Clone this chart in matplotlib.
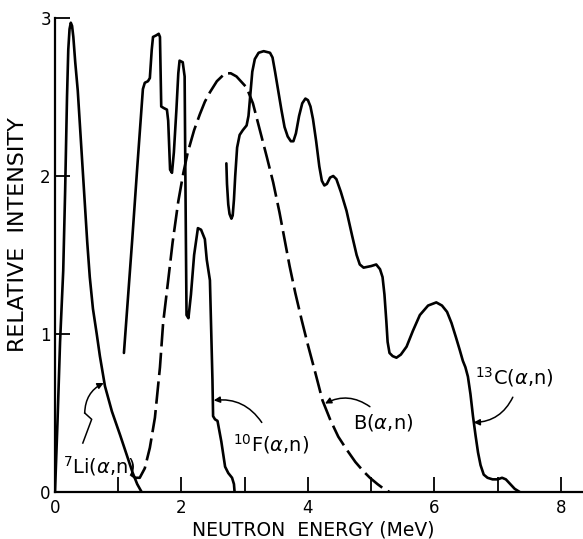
import matplotlib
matplotlib.use("Agg")
import matplotlib.pyplot as plt

plt.rcParams['font.family'] = ['DejaVu Sans']
plt.rcParams['mathtext.fontset'] = 'dejavusans'

# ---- data ----
li_x = [0.00, 0.04, 0.08, 0.13, 0.16, 0.19, 0.21, 0.23, 0.25, 0.27, 0.29, 0.32, 0.36, 0.41,
        0.46, 0.51, 0.55, 0.60, 0.66, 0.71, 0.79, 0.90, 1.03, 1.13, 1.23, 1.30, 1.37]
li_y = [0.00, 0.45, 0.95, 1.40, 1.90, 2.50, 2.80, 2.93, 2.97, 2.95, 2.88, 2.72, 2.54, 2.22,
        1.90, 1.58, 1.36, 1.16, 1.00, 0.86, 0.67, 0.51, 0.36, 0.24, 0.12, 0.05, 0.00]

f_x = [1.09, 1.22, 1.30, 1.39, 1.42, 1.47, 1.50, 1.53, 1.55, 1.60, 1.64, 1.66,
       1.68, 1.72, 1.77, 1.79, 1.82, 1.85, 1.88, 1.92, 1.95, 1.97, 2.02, 2.05, 2.06, 2.07,
       2.08, 2.11, 2.15, 2.20, 2.26, 2.31, 2.37, 2.40, 2.45, 2.49, 2.50, 2.53, 2.57, 2.63,
       2.69, 2.74, 2.80, 2.83, 2.84]
f_y = [0.88, 1.59, 2.05, 2.55, 2.59, 2.60, 2.62, 2.80, 2.88, 2.89, 2.90, 2.88,
       2.44, 2.43, 2.42, 2.35, 2.04, 2.02, 2.15, 2.42, 2.65, 2.73, 2.72, 2.63, 2.10, 1.59,
       1.12, 1.10, 1.25, 1.50, 1.67, 1.66, 1.60, 1.47, 1.34, 0.71, 0.48, 0.46, 0.45, 0.32,
       0.16, 0.12, 0.09, 0.05, 0.00]

c_x = [2.71, 2.72, 2.74, 2.76, 2.79, 2.81, 2.83, 2.85, 2.88, 2.92, 2.97, 3.03, 3.06, 3.09,
       3.12, 3.16, 3.22, 3.30, 3.40, 3.44, 3.48, 3.53, 3.58, 3.63, 3.68, 3.73, 3.77, 3.81,
       3.86, 3.91, 3.96, 4.00, 4.04, 4.08, 4.13, 4.18, 4.22, 4.26, 4.30, 4.35, 4.40, 4.45,
       4.52, 4.61, 4.70, 4.77, 4.82, 4.88, 5.00, 5.08, 5.14, 5.18, 5.21, 5.24, 5.26, 5.29,
       5.34, 5.40, 5.47, 5.56, 5.66, 5.77, 5.90, 6.03, 6.12, 6.20, 6.27, 6.34, 6.40, 6.45,
       6.49, 6.53, 6.57, 6.61, 6.65, 6.69, 6.73, 6.78, 6.84, 6.92, 7.00, 7.07, 7.13, 7.20,
       7.27, 7.35]
c_y = [2.08, 1.95, 1.82, 1.76, 1.73, 1.75, 1.85, 2.00, 2.18, 2.26, 2.29, 2.32, 2.38, 2.52,
       2.66, 2.74, 2.78, 2.79, 2.78, 2.75, 2.66, 2.54, 2.42, 2.31, 2.25, 2.22, 2.22, 2.27,
       2.38, 2.46, 2.49, 2.48, 2.44, 2.36, 2.22, 2.06, 1.97, 1.94, 1.95, 1.99, 2.00, 1.98,
       1.90, 1.78, 1.62, 1.50, 1.44, 1.42, 1.43, 1.44, 1.41, 1.36, 1.25, 1.08, 0.95, 0.88,
       0.86, 0.85, 0.87, 0.92, 1.02, 1.12, 1.18, 1.20, 1.18, 1.14, 1.07, 0.98, 0.90, 0.83,
       0.79, 0.73, 0.62, 0.48, 0.36, 0.25, 0.17, 0.11, 0.09, 0.08, 0.08, 0.09, 0.08, 0.05,
       0.02, 0.00]

b_x = [1.20, 1.27, 1.34, 1.42, 1.50, 1.58, 1.66, 1.71, 1.79, 1.86, 1.95, 2.03, 2.10, 2.20,
       2.29, 2.37, 2.45, 2.56, 2.69, 2.78, 2.87, 3.03, 3.13, 3.24, 3.35, 3.45, 3.55, 3.63,
       3.71, 3.80, 3.90, 4.00, 4.12, 4.23, 4.35, 4.48, 4.61, 4.75, 4.88, 4.98, 5.10, 5.20,
       5.29]
b_y = [0.11, 0.09, 0.09, 0.15, 0.28, 0.47, 0.79, 1.07, 1.34, 1.58, 1.84, 2.02, 2.15, 2.29,
       2.39, 2.47, 2.53, 2.60, 2.65, 2.65, 2.63, 2.56, 2.46, 2.29, 2.12, 1.96, 1.77, 1.60,
       1.43, 1.26, 1.09, 0.93, 0.75, 0.58, 0.46, 0.35, 0.27, 0.19, 0.13, 0.09, 0.05, 0.02,
       0.00]

x_major = [0, 2, 4, 6, 8]
x_minor = [1, 3, 5, 7]
y_ticks = [0, 1, 2, 3]

# ---- figure ----
fig = plt.figure(figsize=(5.83, 5.39), dpi=100)
ax = fig.add_axes([55/583, 47/539, 528/583, 474/539])

lw = 1.9
for xs, ys in [(li_x, li_y), (f_x, f_y), (c_x, c_y)]:
    ax.plot(xs, ys, color='black', lw=lw, solid_joinstyle='round', solid_capstyle='round')
ax.plot(b_x, b_y, color='black', lw=lw, linestyle=(0, (8.5, 2.4)), dash_capstyle='butt')

ax.set_xlim(0, 8.35)
ax.set_ylim(0, 3)
ax.set_xticks(x_major)
ax.set_xticks(x_minor, minor=True)
ax.set_yticks(y_ticks)
ax.tick_params(axis='both', which='both', direction='in', length=11, width=1.3,
               labelsize=12, pad=3)
ax.tick_params(axis='x', which='major', pad=5)
for s in ['top', 'right']:
    ax.spines[s].set_visible(False)
for s in ['left', 'bottom']:
    ax.spines[s].set_linewidth(1.6)
ax.spines['bottom'].set_clip_on(False)

fig.text(0.031, 0.564, 'RELATIVE  INTENSITY', rotation=90, ha='center', va='center', fontsize=16)
fig.text(0.537, 0.017, 'NEUTRON  ENERGY (MeV)', ha='center', va='center', fontsize=13.5)

# ---- annotations ----
afs = 14
ap = dict(arrowstyle='-|>', color='black', lw=1.1, mutation_scale=9, shrinkA=0, shrinkB=0)

ax.text(0.12, 0.12, r'$^{7}$Li($\alpha$,n)', fontsize=afs, ha='left', va='baseline')
ax.plot([0.44, 0.58, 0.47], [0.31, 0.46, 0.50], color='black', lw=1.1)
ax.annotate('', xy=(0.77, 0.69), xytext=(0.47, 0.50),
            arrowprops=dict(ap, connectionstyle='arc3,rad=-0.3'))

ax.text(2.81, 0.26, r'$^{10}$F($\alpha$,n)', fontsize=afs, ha='left', va='baseline')
ax.annotate('', xy=(2.51, 0.58), xytext=(3.27, 0.44),
            arrowprops=dict(ap, connectionstyle='arc3,rad=0.3'))

ax.text(4.71, 0.40, r'B($\alpha$,n)', fontsize=afs, ha='left', va='baseline')
ax.annotate('', xy=(4.27, 0.56), xytext=(4.98, 0.54),
            arrowprops=dict(ap, connectionstyle='arc3,rad=0.3'))

ax.text(6.64, 0.68, r'$^{13}$C($\alpha$,n)', fontsize=afs, ha='left', va='baseline')
ax.annotate('', xy=(6.62, 0.44), xytext=(7.24, 0.60),
            arrowprops=dict(ap, connectionstyle='arc3,rad=-0.3'))

fig.savefig('out.png', dpi=100)
